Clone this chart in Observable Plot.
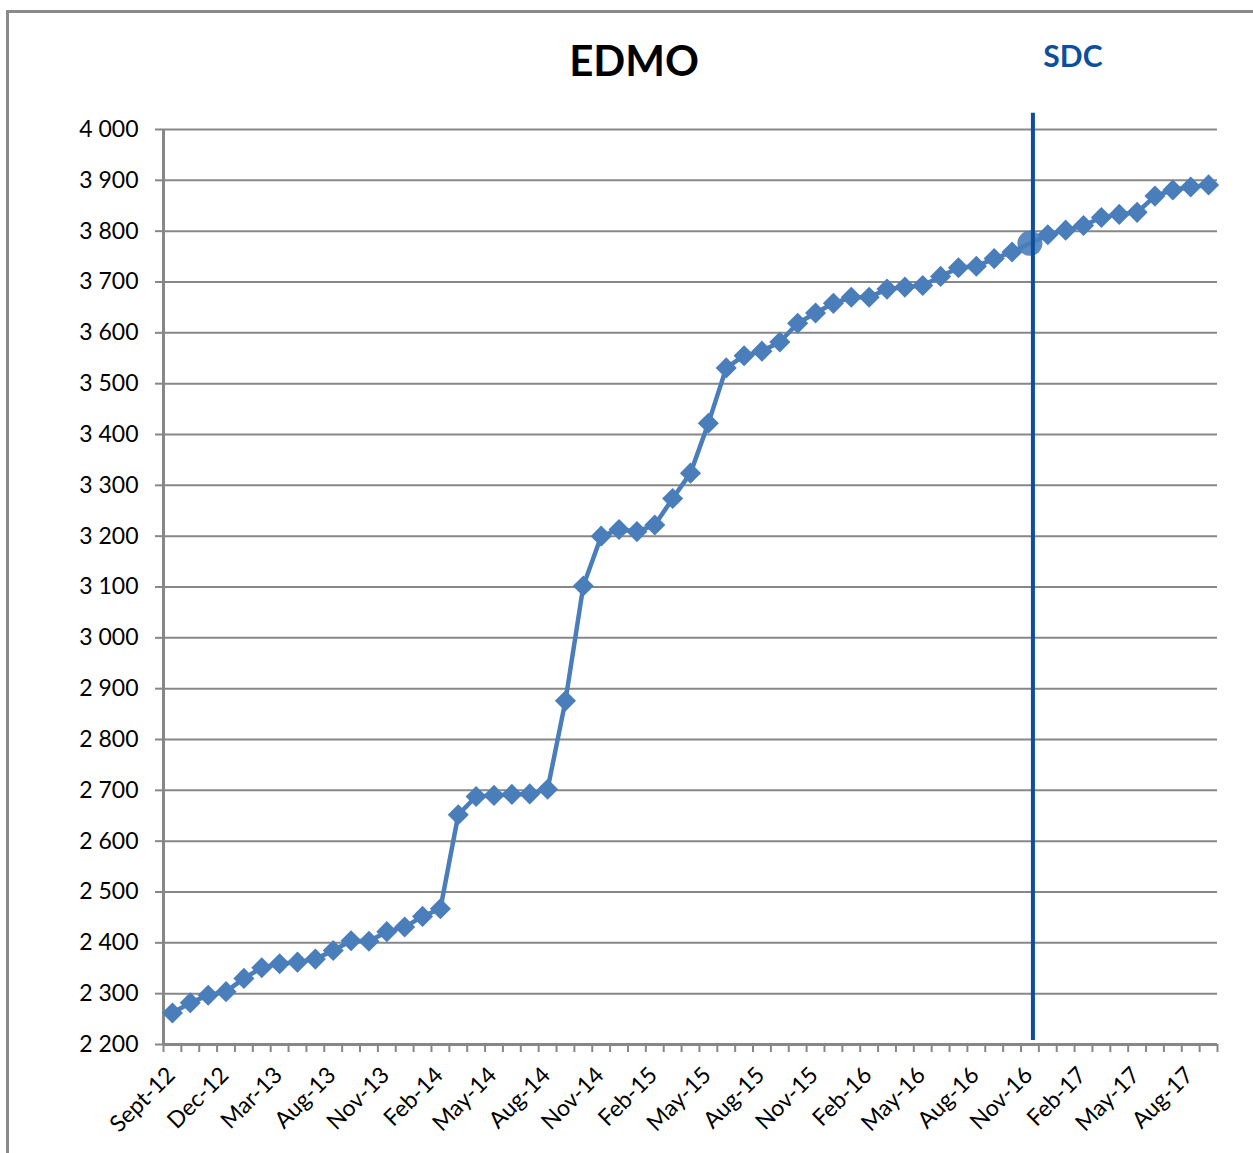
<!DOCTYPE html>
<html>
<head>
<meta charset="utf-8">
<script src="https://cdn.jsdelivr.net/npm/d3@7"></script>
<script src="https://cdn.jsdelivr.net/npm/@observablehq/plot@0.6"></script>
<style>
  html, body { margin: 0; padding: 0; background: #fff; overflow: hidden; }
  #wrap { position: relative; width: 1253px; height: 1153px; overflow: hidden; font-family: Lato, "Open Sans", sans-serif; }
  #frame { position: absolute; left: 6px; top: 10px; width: 1400px; height: 1300px; border: 3px solid #8a8a8a; box-sizing: border-box; }
  #title { position: absolute; left: 534px; top: 35px; width: 200px; text-align: center; font-weight: 700; font-size: 42px; color: #000; }
  #chart { position: absolute; left: 0; top: 0; }
</style>
</head>
<body>
<div id="wrap">
  <div id="frame"></div>
  <div id="chart"></div>
  <div id="title">EDMO</div>
</div>
<script>
const categories = ["Sept-12","Oct-12","Nov-12","Dec-12","Jan-13","Feb-13","Mar-13","Jun-13","Jul-13","Aug-13",
  "Sep-13","Oct-13","Nov-13","Dec-13","Jan-14","Feb-14","Mar-14","Apr-14","May-14","Jun-14",
  "Jul-14","Aug-14","Sep-14","Oct-14","Nov-14","Dec-14","Jan-15","Feb-15","Mar-15","Apr-15",
  "May-15","Jun-15","Jul-15","Aug-15","Sep-15","Oct-15","Nov-15","Dec-15","Jan-16","Feb-16",
  "Mar-16","Apr-16","May-16","Jun-16","Jul-16","Aug-16","Sep-16","Oct-16","Nov-16","Dec-16",
  "Jan-17","Feb-17","Mar-17","Apr-17","May-17","Jun-17","Jul-17","Aug-17","Sep-17"];
const values = [2262,2282,2297,2304,2330,2351,2359,2362,2368,2385,
  2404,2403,2422,2431,2452,2467,2652,2688,2690,2692,
  2693,2702,2876,3102,3200,3213,3209,3222,3274,3324,
  3422,3531,3555,3564,3582,3619,3639,3658,3670,3670,
  3686,3690,3693,3711,3728,3731,3746,3759,3776,3793,
  3802,3811,3827,3833,3837,3869,3881,3887,3891];
const tickLabels = ["Sept-12","Dec-12","Mar-13","Aug-13","Nov-13","Feb-14","May-14","Aug-14","Nov-14","Feb-15",
  "May-15","Aug-15","Nov-15","Feb-16","May-16","Aug-16","Nov-16","Feb-17","May-17","Aug-17"];
const yTicks = [2200,2300,2400,2500,2600,2700,2800,2900,3000,3100,3200,3300,3400,3500,3600,3700,3800,3900,4000];
const sdcCategory = "Nov-16";
const sdcLabel = "SDC";
const sdcRuleRange = [2208, 4032];

const data = categories.map((c, i) => ({c, i, v: values[i]}));
const sdcIndex = categories.indexOf(sdcCategory);
const labelData = tickLabels.map(t => ({t, i: categories.indexOf(t)}));
const fmt = d => d3.format(",")(d).replace(/,/g, " ");

const gray = "#878787";
const blue = "#4A7EBB";
const darkBlue = "#0B4F9E";

const chart = Plot.plot({
  width: 1253,
  height: 1153,
  marginTop: 129,
  marginBottom: 109,
  marginLeft: 163,
  marginRight: 36,
  style: {fontFamily: "Lato, 'Open Sans', sans-serif", background: "transparent", overflow: "visible"},
  x: {domain: [0, categories.length], axis: null},
  y: {domain: [2200, 4000], axis: null},
  marks: [
    Plot.gridY(yTicks, {stroke: gray, strokeOpacity: 1, strokeWidth: 2}),
    Plot.axisY(yTicks, {tickSize: 8, tickPadding: 17, stroke: gray, strokeWidth: 2, fontSize: 23, fill: "#000", tickFormat: fmt, label: null}),
    Plot.axisX(d3.range(categories.length + 1), {tickSize: 8, stroke: gray, strokeWidth: 2, tickFormat: () => "", label: null}),
    Plot.ruleY([2200], {stroke: gray, strokeWidth: 3}),
    Plot.ruleX([0], {stroke: gray, strokeWidth: 3}),
    Plot.text(labelData, {x: d => d.i + 0.5, text: "t", frameAnchor: "bottom", rotate: -45, textAnchor: "end", dy: 32, dx: 4, fontSize: 23, fill: "#000"}),
    Plot.line(data, {x: d => d.i + 0.5, y: "v", stroke: blue, strokeWidth: 4.5}),
    Plot.dot(data.filter(d => d.i !== sdcIndex), {x: d => d.i + 0.5, y: "v", symbol: "diamond2", r: 9.5, fill: blue, stroke: "none"}),
    Plot.dot(data.filter(d => d.i === sdcIndex), {x: d => d.i + 0.5, y: "v", r: 12.5, fill: blue, fillOpacity: 0.9, stroke: "none"}),
    Plot.ruleX([sdcIndex], {x: d => d + 0.5, dx: 3, y1: sdcRuleRange[0], y2: sdcRuleRange[1], stroke: darkBlue, strokeWidth: 4}),
    Plot.text([sdcLabel], {x: sdcIndex + 0.5, text: d => d, frameAnchor: "top", dy: -84, dx: 43, fontSize: 30, fontWeight: 700, fill: darkBlue})
  ]
});
document.getElementById("chart").appendChild(chart);
</script>
</body>
</html>
